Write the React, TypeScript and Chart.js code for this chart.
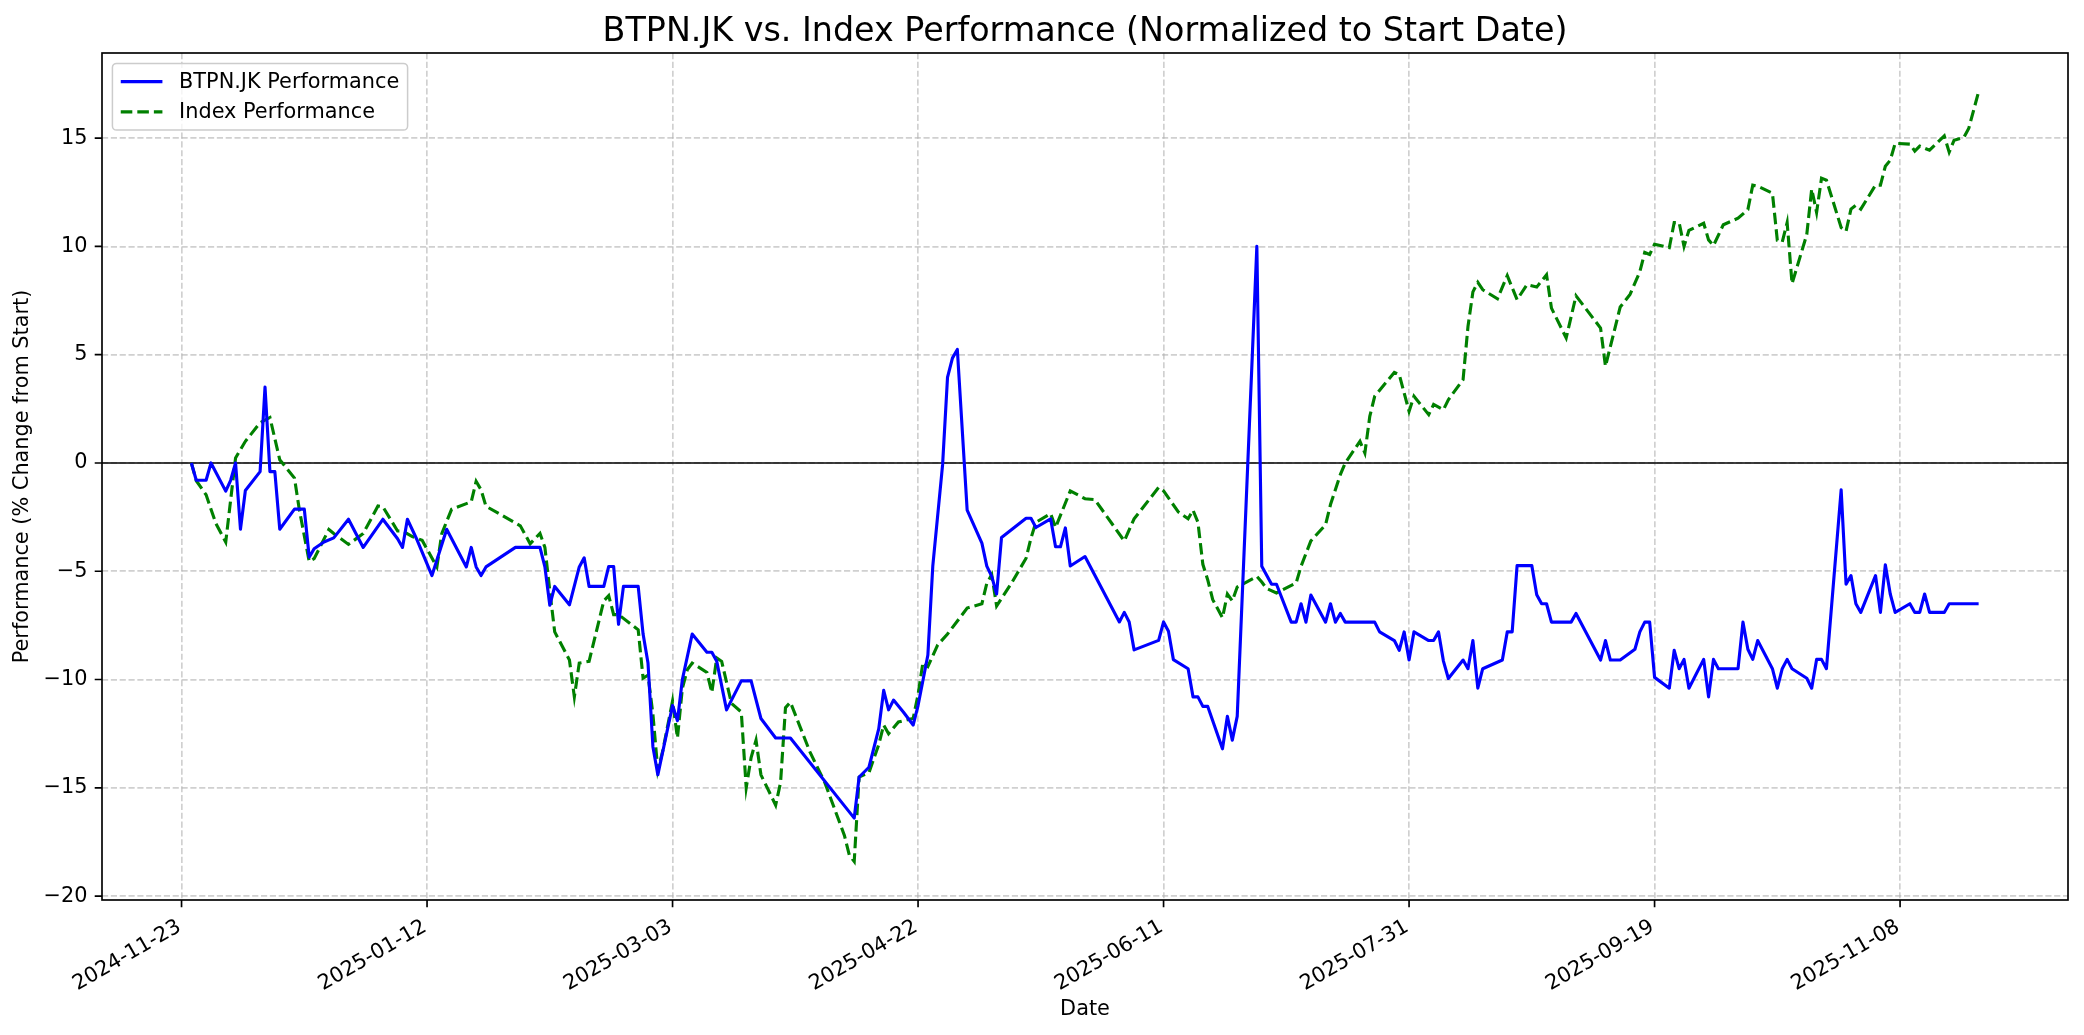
import { useEffect, useRef } from 'react';
import { Chart, registerables } from 'chart.js';

Chart.register(...registerables);

// Day 0 of the x axis (days since this date)
const START_DATE = Date.UTC(2024, 10, 23);

const xTickDays = [0, 50, 100, 150, 200, 250, 300, 350];
const yTickValues = [-20, -15, -10, -5, 0, 5, 10, 15];

const btpnDays = [
  2, 3, 5, 6, 9, 10, 11, 12, 13, 16, 17, 18, 19, 20, 23, 25, 26, 27, 29, 31,
  34, 37, 41, 44, 45, 46, 48, 51, 54, 58, 59, 60, 61, 62, 68, 73, 74, 75, 76, 79,
  81, 82, 83, 86, 87, 88, 89, 90, 93, 94, 95, 96, 97, 100, 101, 102, 104, 107, 108, 109,
  111, 114, 116, 118, 121, 124, 137, 138, 140, 142, 143, 144, 145, 147, 149, 150, 152, 153, 155, 156,
  157, 158, 160, 163, 164, 165, 166, 167, 172, 173, 174, 177, 178, 179, 180, 181, 184, 191, 192, 193,
  194, 199, 200, 201, 202, 205, 206, 207, 208, 209, 212, 213, 214, 215, 219, 220, 222, 223, 226, 227,
  228, 229, 230, 233, 234, 235, 236, 237, 243, 244, 247, 248, 249, 250, 251, 254, 255, 256, 257, 258,
  261, 262, 263, 264, 265, 269, 270, 271, 272, 275, 276, 277, 278, 279, 283, 284, 289, 290, 291, 293,
  296, 297, 298, 299, 300, 303, 304, 305, 306, 307, 310, 311, 312, 313, 317, 318, 319, 320, 321, 324,
  325, 326, 327, 328, 331, 332, 333, 334, 335, 338, 339, 340, 341, 342, 345, 346, 347, 348, 349, 352,
  353, 354, 355, 356, 359, 360, 361, 362, 363, 366,
];
const btpnValues = [
  0, -0.8, -0.8, 0, -1.3, -0.8, 0, -3.06, -1.27, -0.4, 3.5, -0.4, -0.4, -3.06, -2.13, -2.13, -4.35, -3.96, -3.65, -3.46,
  -2.6, -3.9, -2.6, -3.5, -3.9, -2.6, -3.57, -5.2, -3.06, -4.8, -3.9, -4.8, -5.2, -4.8, -3.9, -3.9, -4.8, -6.57, -5.7, -6.55,
  -4.8, -4.38, -5.7, -5.7, -4.78, -4.78, -7.45, -5.7, -5.7, -7.9, -9.24, -13.1, -14.4, -11.2, -11.9, -10.0, -7.9, -8.74, -8.74, -9.16,
  -11.4, -10.06, -10.06, -11.8, -12.7, -12.7, -16.4, -14.5, -14.05, -12.27, -10.5, -11.4, -10.95, -11.5, -12.1, -11.2, -8.87, -4.76, -0.08, 3.95,
  4.84, 5.24, -2.18, -3.7, -4.76, -5.24, -6.05, -3.44, -2.55, -2.55, -2.98, -2.58, -3.87, -3.87, -3.0, -4.76, -4.32, -7.34, -6.9, -7.34,
  -8.63, -8.19, -7.34, -7.77, -9.08, -9.5, -10.8, -10.8, -11.24, -11.24, -13.2, -11.7, -12.8, -11.7, 10.0, -4.77, -5.6, -5.6, -7.35, -7.35,
  -6.5, -7.35, -6.1, -7.35, -6.5, -7.35, -6.95, -7.35, -7.35, -7.8, -8.2, -8.65, -7.8, -9.1, -7.8, -8.2, -8.2, -7.8, -9.15, -9.95,
  -9.1, -9.5, -8.2, -10.4, -9.5, -9.1, -7.8, -7.8, -4.74, -4.74, -6.08, -6.5, -6.5, -7.35, -7.35, -6.95, -9.1, -8.2, -9.1, -9.1,
  -8.6, -7.8, -7.35, -7.35, -9.9, -10.4, -8.65, -9.5, -9.07, -10.4, -9.07, -10.8, -9.07, -9.5, -9.5, -7.35, -8.6, -9.07, -8.2, -9.5,
  -10.4, -9.5, -9.07, -9.5, -9.94, -10.4, -9.07, -9.07, -9.5, -1.24, -5.6, -5.2, -6.5, -6.9, -5.2, -6.9, -4.7, -6.05, -6.9, -6.5,
  -6.9, -6.9, -6.05, -6.9, -6.9, -6.5, -6.5, -6.5, -6.5, -6.5,
];

const indexDays = [
  2, 3, 5, 7, 9, 11, 13, 16, 18, 20, 23, 24, 26, 27, 30, 31, 34, 37, 40, 41,
  44, 45, 47, 49, 52, 53, 55, 59, 60, 61, 62, 69, 71, 73, 74, 75, 76, 79, 80, 81,
  83, 86, 87, 88, 89, 93, 94, 95, 96, 97, 98, 100, 101, 102, 103, 104, 107, 108, 109, 110,
  112, 114, 115, 116, 117, 118, 121, 122, 123, 124, 128, 131, 135, 136, 137, 138, 140, 142, 143, 144,
  146, 148, 149, 150, 151, 152, 154, 156, 160, 163, 164, 165, 166, 169, 172, 173, 174, 177, 178, 181,
  184, 186, 192, 194, 199, 200, 203, 205, 206, 207, 208, 209, 210, 212, 213, 214, 215, 219, 220, 221,
  223, 227, 228, 230, 233, 234, 236, 237, 240, 241, 242, 243, 247, 248, 250, 251, 254, 255, 257, 258,
  261, 262, 263, 264, 265, 268, 270, 272, 274, 276, 278, 279, 282, 284, 289, 290, 293, 295, 297, 298,
  299, 300, 303, 304, 305, 306, 307, 310, 311, 312, 314, 317, 319, 320, 321, 324, 325, 326, 327, 328,
  331, 332, 333, 334, 335, 338, 339, 340, 341, 342, 345, 346, 347, 348, 349, 352, 353, 354, 356, 359,
  360, 361, 363, 364, 366,
];
const indexValues = [
  0, -0.82, -1.47, -2.8, -3.65, 0.23, 1.0, 1.86, 2.1, 0.15, -0.7, -2.17, -4.55, -4.42, -3.07, -3.26, -3.76, -3.26, -1.99, -2.02,
  -3.14, -3.14, -3.4, -3.57, -4.8, -3.26, -2.14, -1.79, -0.85, -1.24, -2.0, -2.9, -3.73, -3.25, -3.9, -5.9, -7.8, -9.1, -10.8, -9.24,
  -9.16, -6.37, -6.13, -7.0, -7.0, -7.7, -9.94, -9.8, -11.6, -14.2, -13.3, -11.0, -12.7, -10.4, -9.55, -9.24, -9.67, -10.6, -9.0, -9.16,
  -11.1, -11.5, -15.0, -13.6, -12.8, -14.4, -15.8, -14.75, -11.3, -11.05, -13.35, -14.75, -17.2, -18.1, -18.4, -14.5, -14.3, -13.0, -12.1, -12.5,
  -11.96, -11.85, -11.8, -10.7, -9.2, -9.4, -8.4, -7.9, -6.7, -6.5, -5.56, -5.16, -6.6, -5.56, -4.4, -3.47, -2.74, -2.34, -2.98, -1.29,
  -1.65, -1.69, -3.6, -2.58, -1.13, -1.29, -2.26, -2.58, -2.18, -2.74, -4.68, -5.4, -6.3, -7.15, -6.05, -6.37, -5.73, -5.24, -5.5, -5.8,
  -6.0, -5.54, -4.77, -3.6, -2.85, -1.92, -0.54, 0, 1.0, 0.46, 2.15, 3.08, 4.18, 4.08, 2.38, 3.08, 2.23, 2.7, 2.46, 2.92,
  3.85, 6.3, 7.9, 8.34, 8.0, 7.58, 8.65, 7.54, 8.23, 8.12, 8.69, 7.15, 5.77, 7.72, 6.23, 4.46, 7.2, 7.78, 8.83, 9.72,
  9.63, 10.1, 9.94, 11.1, 11.1, 10.0, 10.74, 11.07, 10.3, 10.04, 11.0, 11.3, 11.7, 12.83, 12.78, 12.46, 10.28, 10.2, 11.1, 8.28,
  10.55, 12.65, 11.57, 13.15, 13.06, 10.87, 10.7, 11.72, 11.9, 11.72, 12.83, 12.83, 13.7, 13.98, 14.76, 14.72, 14.4, 14.63, 14.44, 15.1,
  14.35, 14.9, 15.04, 15.46, 17.15,
];

const TITLE = 'BTPN.JK vs. Index Performance (Normalized to Start Date)';
const SERIES_LABELS = ['BTPN.JK Performance', 'Index Performance'];
const FONT = "'DejaVu Sans', 'Liberation Sans', sans-serif";
const PT = 150 / 72;

function fmtDate(day: number): string {
  const d = new Date(START_DATE + day * 86400000);
  return d.toISOString().slice(0, 10);
}

function fmtNum(v: number): string {
  return v < 0 ? '\u2212' + Math.abs(v) : String(v);
}

const mplPlugin = {
  id: 'mplDecor',
  beforeDatasetsDraw(chart: any) {
    const { ctx, chartArea: ca, scales } = chart;
    const y0 = scales.y.getPixelForValue(0);
    ctx.save();
    ctx.strokeStyle = '#000000';
    ctx.lineWidth = 0.8 * PT;
    ctx.beginPath();
    ctx.moveTo(ca.left, y0);
    ctx.lineTo(ca.right, y0);
    ctx.stroke();
    ctx.restore();
  },
  afterDatasetsDraw(chart: any) {
    const { ctx, chartArea: ca, scales } = chart;
    const tl = 3.5 * PT;
    ctx.save();
    ctx.strokeStyle = '#000000';
    ctx.lineWidth = 0.8 * PT;
    ctx.setLineDash([]);
    ctx.beginPath();
    for (const t of scales.x.ticks) {
      const x = scales.x.getPixelForValue(t.value);
      ctx.moveTo(x, ca.bottom);
      ctx.lineTo(x, ca.bottom + tl);
    }
    for (const t of scales.y.ticks) {
      const y = scales.y.getPixelForValue(t.value);
      ctx.moveTo(ca.left, y);
      ctx.lineTo(ca.left - tl, y);
    }
    ctx.stroke();
    ctx.strokeRect(ca.left, ca.top, ca.right - ca.left, ca.bottom - ca.top);
    ctx.restore();
  },
  afterDraw(chart: any) {
    const { ctx, chartArea: ca } = chart;
    ctx.save();
    // title
    ctx.fillStyle = '#000000';
    ctx.font = `${16 * PT}px ${FONT}`;
    ctx.textAlign = 'center';
    ctx.textBaseline = 'alphabetic';
    ctx.fillText(TITLE, (ca.left + ca.right) / 2, ca.top - 6 * PT);

    // legend
    const fs = 10 * PT;
    ctx.font = `${fs}px ${FONT}`;
    const pad = 0.4 * fs;
    const handle = 2.0 * fs;
    const htp = 0.8 * fs;
    const rowH = 0.95 * fs;
    const spacing = 0.5 * fs;
    const textW = Math.max(...SERIES_LABELS.map((s) => ctx.measureText(s).width));
    const lx = ca.left + 0.5 * fs;
    const ly = ca.top + 0.5 * fs;
    const w = pad * 2 + handle + htp + textW;
    const h = pad * 2 + rowH * 2 + spacing;
    ctx.beginPath();
    ctx.roundRect(lx, ly, w, h, 0.2 * fs);
    ctx.fillStyle = 'rgba(255,255,255,0.8)';
    ctx.fill();
    ctx.strokeStyle = '#cccccc';
    ctx.lineWidth = 1.5;
    ctx.stroke();
    const styles = [
      { color: '#0000ff', dash: [] as number[] },
      { color: '#008000', dash: [3.7 * 1.5 * PT, 1.6 * 1.5 * PT] },
    ];
    SERIES_LABELS.forEach((label, i) => {
      const cy = ly + pad + rowH / 2 + i * (rowH + spacing);
      ctx.beginPath();
      ctx.strokeStyle = styles[i].color;
      ctx.lineWidth = 1.5 * PT;
      ctx.setLineDash(styles[i].dash);
      ctx.moveTo(lx + pad, cy);
      ctx.lineTo(lx + pad + handle, cy);
      ctx.stroke();
      ctx.setLineDash([]);
      ctx.fillStyle = '#000000';
      ctx.textAlign = 'left';
      ctx.textBaseline = 'middle';
      ctx.fillText(label, lx + pad + handle + htp, cy + 1);
    });
    ctx.restore();
  },
};

export default function App() {
  const canvasRef = useRef<HTMLCanvasElement | null>(null);

  useEffect(() => {
    document.body.style.margin = '0';
    document.body.style.overflow = 'hidden';
    const canvas = canvasRef.current;
    if (!canvas) return;
    const gridColor = 'rgba(176,176,176,0.6)';
    const gridDash = [3.7 * 0.8 * PT, 1.6 * 0.8 * PT];
    const tickFont = { family: FONT, size: 10 * PT };
    const chart = new Chart(canvas, {
      type: 'line',
      data: {
        datasets: [
          {
            label: SERIES_LABELS[0],
            data: btpnDays.map((d, i) => ({ x: d, y: btpnValues[i] })),
            borderColor: '#0000ff',
            borderWidth: 1.5 * PT,
            pointRadius: 0,
            tension: 0,
            fill: false,
            borderJoinStyle: 'round',
          },
          {
            label: SERIES_LABELS[1],
            data: indexDays.map((d, i) => ({ x: d, y: indexValues[i] })),
            borderColor: '#008000',
            borderWidth: 1.5 * PT,
            borderDash: [3.7 * 1.5 * PT, 1.6 * 1.5 * PT],
            pointRadius: 0,
            tension: 0,
            fill: false,
          },
        ],
      },
      options: {
        animation: false,
        responsive: true,
        maintainAspectRatio: false,
        events: [],
        layout: { padding: { top: 53, right: 16, left: 0, bottom: 0 } },
        plugins: {
          legend: { display: false },
          title: { display: false },
          tooltip: { enabled: false },
        },
        scales: {
          x: {
            type: 'linear',
            min: -16.2,
            max: 384.2,
            afterBuildTicks: (s: any) => {
              s.ticks = xTickDays.map((v) => ({ value: v }));
            },
            afterFit: (s: any) => {
              s.height = 135;
            },
            ticks: {
              callback: (v: any) => fmtDate(Number(v)),
              minRotation: 30,
              maxRotation: 30,
              autoSkip: false,
              font: tickFont,
              color: '#000000',
              padding: 7 * PT,
              labelOffset: -2,
            },
            grid: {
              color: gridColor,
              lineWidth: 0.8 * PT,
              drawTicks: false,
              borderDash: gridDash,
            } as any,
            border: { display: false, dash: gridDash },
            title: {
              display: true,
              text: 'Date',
              color: '#000000',
              font: tickFont,
              padding: { top: 0, bottom: 12.5 },
            },
          },
          y: {
            type: 'linear',
            min: -20.18,
            max: 18.93,
            afterBuildTicks: (s: any) => {
              s.ticks = yTickValues.map((v) => ({ value: v }));
            },
            afterFit: (s: any) => {
              s.width = 102;
            },
            ticks: {
              callback: (v: any) => fmtNum(Number(v)),
              font: tickFont,
              color: '#000000',
              padding: 7 * PT,
            },
            grid: {
              color: gridColor,
              lineWidth: 0.8 * PT,
              drawTicks: false,
              borderDash: gridDash,
            } as any,
            border: { display: false, dash: gridDash },
            title: {
              display: true,
              text: 'Performance (% Change from Start)',
              color: '#000000',
              font: tickFont,
              padding: { top: 10, bottom: 0 },
            },
          },
        },
      },
      plugins: [mplPlugin],
    } as any);
    return () => chart.destroy();
  }, []);

  return (
    <div style={{ width: 2084, height: 1035, position: 'relative', background: '#ffffff' }}>
      <canvas ref={canvasRef} />
    </div>
  );
}
